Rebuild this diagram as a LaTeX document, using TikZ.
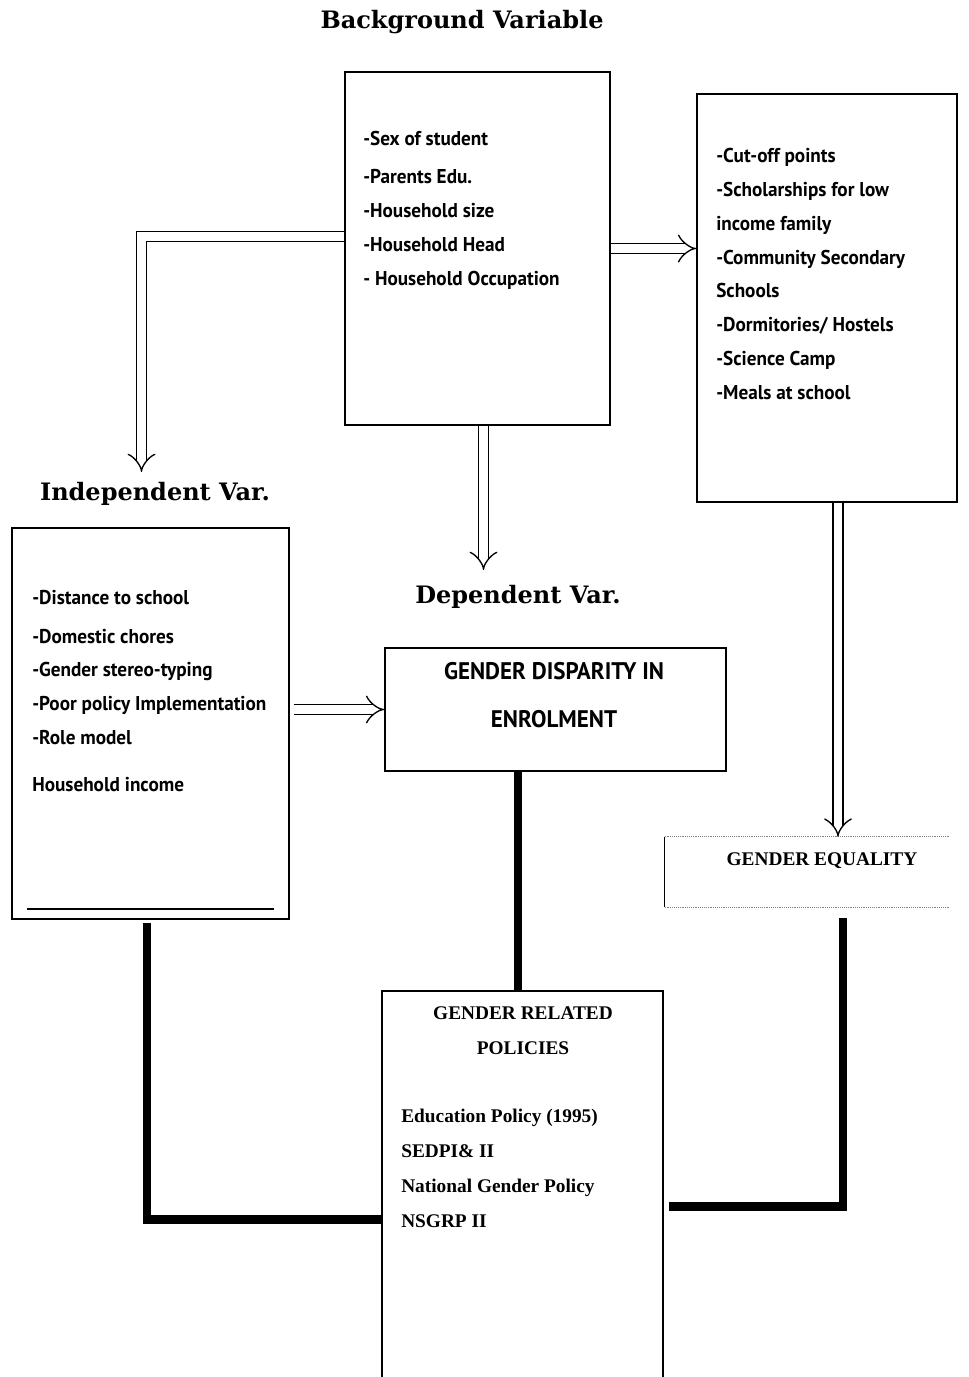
\documentclass[tikz,border=0pt]{standalone}
\usepackage{fontspec}
\setmainfont{DejaVu Serif}
\newfontfamily\listfont[FakeStretch=0.96]{PT Sans}
\newfontfamily\polfont{Liberation Serif}
\usetikzlibrary{arrows.meta,calc}

\tikzset{
  box/.style={draw, rectangle, line width=1.1pt, inner sep=0pt},
  heading/.style={font=\bfseries\fontsize{18}{22}\selectfont},
  items/.style={align=left, anchor=base west, inner sep=0pt, font=\listfont\bfseries\fontsize{15}{25.3}\selectfont},
  politems/.style={align=left, anchor=base west, inner sep=0pt, font=\polfont\bfseries\fontsize{14.5}{26.2}\selectfont},
  hollow/.style={double, double distance=6.5pt, line width=1pt, -{Implies}},
  thickline/.style={line width=6.5pt},
}

\begin{document}
\begin{tikzpicture}[x=0.75pt, y=-0.75pt]
            \useasboundingbox (0,0) rectangle (969,1377);
            % Draw boxes
            \node[box, minimum width=198.75pt, minimum height=264.75pt] (bg) at (477.5,248.5) {};
            \node[box, minimum width=195pt, minimum height=306pt] (inter) at (827,298) {};
            \node[box, minimum width=207.75pt, minimum height=293.25pt] (indep) at (150.5,723.5) {};
            \node[box, minimum width=255.75pt, minimum height=92.25pt] (dep) at (555.5,709.5) {};
            \node[inner sep=0pt, minimum width=213.75pt, minimum height=52.5pt] (equal) at (807.5,872) {};
            \node[box, minimum width=210.75pt, minimum height=300pt] (pol) at (522.5,1191) {};
            \draw[line width=1.1pt] (equal.north west) -- (equal.south west);
            \draw[gray, densely dotted] (equal.north west) -- (equal.north east);
            \draw[gray, densely dotted] (equal.south west) -- (equal.south east);
            \draw[line width=1.5pt] ($(indep.south west)+(16,-11)$) -- ($(indep.south east)+(-16,-11)$);

            % headings
            \node[heading] (bgtitle) at (462,22) {Background Variable};
            \node[heading] (indeptitle) at (155,494) {Independent Var.};
            \node[heading] (deptitle) at (518,597) {Dependent Var.};

            % box texts (anchored at the baseline of the last line)
            \node[items] (bglist) at (363,285) {-Sex of student\\[3.75pt]-Parents Edu.\\-Household size\\-Household Head\\- Household Occupation};
            \node[items] (interlist) at (716,399) {-Cut-off points\\-Scholarships for low\\income family\\-Community Secondary\\Schools\\-Dormitories/ Hostels\\-Science Camp\\-Meals at school};
            \node[items] (indeplist) at (32,791) {-Distance to school\\[3.75pt]-Domestic chores\\-Gender stereo-typing\\-Poor policy Implementation\\-Role model\\[9.75pt]Household income};
            \node[items, align=center, anchor=base, font=\listfont\bfseries\fontsize{18}{25.3}\selectfont] (deptext) at (554,727) {GENDER DISPARITY IN\\[10.5pt]ENROLMENT};
            \node[politems, anchor=center] (equaltext) at (822,861) {GENDER EQUALITY};
            \node[politems, align=center, anchor=base] (poltitle) at (523,1054) {GENDER RELATED\\POLICIES};
            \node[politems] (pollist) at (401,1227) {Education Policy (1995)\\SEDPI\& II\\National Gender Policy\\NSGRP II};

            % hollow arrows
            \coordinate (indeptip) at (141.5,472);
            \coordinate (deptip) at (483.5,570);
            \draw[hollow] ($(bg.north west)+(0,165)$) -| (indeptip);
            \draw[hollow] (bg.east) -- (bg.east -| inter.west);
            \draw[hollow] ($(bg.south)+(6,0)$) -- (deptip);
            \draw[hollow] ($(dep.west -| indep.east)+(4,0)$) -- (dep.west);
            \draw[hollow] ($(inter.south)+(11,0)$) -- ($(equal.north)+(30.5,0)$);

            % thick links from the policies
            \draw[thickline] ($(pol.north)+(-4.5,0)$) -- ($(dep.south)+(-37.5,0)$);
            \draw[thickline] ($(pol.north west)+(0,229)$) -| ($(indep.south)+(-3.5,3)$);
            \draw[thickline] ($(pol.north east)+(5,216)$) -| ($(equal.south)+(35.5,11)$);
        \end{tikzpicture}
\end{document}
